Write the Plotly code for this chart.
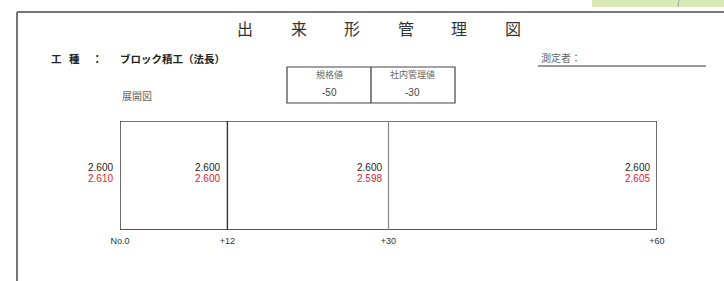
import plotly.graph_objects as go

W, H = 724, 281

# ---- data ----
stations = [0, 12, 30, 60]
station_labels = ["No.0", "+12", "+30", "+60"]
design_values = ["2.600", "2.600", "2.600", "2.600"]
measured_values = ["2.610", "2.600", "2.598", "2.605"]
title_chars = ["出", "来", "形", "管", "理", "図"]
table_headers = ["規格値", "社内管理値"]
table_values = ["-50", "-30"]

def px(x):
    return x / W

def py(y):
    return 1 - y / H

fig = go.Figure()

# chart box: top and bottom edges
fig.add_trace(go.Scatter(x=[stations[0], stations[-1]], y=[1, 1], mode="lines",
                         line=dict(color="#444444", width=1.6), hoverinfo="skip"))
fig.add_trace(go.Scatter(x=[stations[0], stations[-1]], y=[0, 0], mode="lines",
                         line=dict(color="#555555", width=2), hoverinfo="skip"))
# vertical station lines
vcolors = ["#444444", "#333333", "#888888", "#444444"]
vwidths = [1.6, 1.4, 1.2, 1.6]
for s, c, w in zip(stations, vcolors, vwidths):
    fig.add_trace(go.Scatter(x=[s, s], y=[0, 1], mode="lines",
                             line=dict(color=c, width=w), hoverinfo="skip"))

annotations = []
for s, d, m in zip(stations, design_values, measured_values):
    annotations.append(dict(x=s, y=0.575, xref="x", yref="y", text=d, showarrow=False,
                            xanchor="right", yanchor="middle", xshift=-5,
                            font=dict(size=10, color="#222222", family="Liberation Sans")))
    annotations.append(dict(x=s, y=0.475, xref="x", yref="y", text=m, showarrow=False,
                            xanchor="right", yanchor="middle", xshift=-5,
                            font=dict(size=10, color="#e8202a", family="Liberation Sans")))

jp = "Noto Sans CJK JP"

def pann(x, y, text, size=10, color="#222222", family=jp, xanchor="center"):
    return dict(x=px(x), y=py(y), xref="paper", yref="paper", text=text, showarrow=False,
                xanchor=xanchor, yanchor="middle", font=dict(size=size, color=color, family=family))

# title
title_x = [245, 298.5, 352, 405.5, 459, 513]
for cx, ch in zip(title_x, title_chars):
    annotations.append(pann(cx, 28, ch, size=16, color="#333333"))
annotations += [
    pann(57, 58, "<b>工</b>", size=10.5),
    pann(74, 58, "<b>種</b>", size=10.5),
    pann(98, 58, "<b>：</b>", size=10.5),
    pann(118, 58, "<b>ブロック積工（法長）</b>", size=10.5, xanchor="left"),
    pann(120, 95, "展開図", size=10, color="#666666", xanchor="left"),
    pann(539, 57, "測定者：", size=10, color="#666666", xanchor="left"),
    pann(329, 75, table_headers[0], size=9, color="#666666"),
    pann(413, 75, table_headers[1], size=9, color="#666666"),
    pann(329, 93, table_values[0], size=10, color="#444444", family="Liberation Sans"),
    pann(413, 93, table_values[1], size=10, color="#444444", family="Liberation Sans"),
]

shapes = [
    # decorative green corner
    dict(type="rect", xref="paper", yref="paper", x0=px(592), x1=1, y0=py(7), y1=1,
         fillcolor="#d9eab8", line=dict(width=0), layer="below"),
    dict(type="line", xref="paper", yref="paper", x0=px(678), x1=px(679), y0=py(7), y1=1,
         line=dict(color="#a0a890", width=1)),
    # outer frame
    dict(type="line", xref="paper", yref="paper", x0=px(17), x1=1, y0=py(12), y1=py(12),
         line=dict(color="#777777", width=2)),
    dict(type="line", xref="paper", yref="paper", x0=px(17), x1=px(17), y0=py(12), y1=0,
         line=dict(color="#777777", width=2)),
    # measurer underline
    dict(type="line", xref="paper", yref="paper", x0=px(538), x1=px(706), y0=py(66), y1=py(66),
         line=dict(color="#333333", width=1.2)),
    # table
    dict(type="rect", xref="paper", yref="paper", x0=px(287), x1=px(455), y0=py(103), y1=py(67),
         line=dict(color="#444444", width=1.2)),
    dict(type="line", xref="paper", yref="paper", x0=px(371), x1=px(371), y0=py(103), y1=py(67),
         line=dict(color="#333333", width=1.2)),
]

fig.update_layout(
    width=W, height=H, margin=dict(l=0, r=0, t=0, b=0, pad=0, autoexpand=False), autosize=False,
    paper_bgcolor="white", plot_bgcolor="white", showlegend=False,
    xaxis=dict(domain=[px(120), px(657)], range=[0, 60], showgrid=False, zeroline=False,
               showline=False, tickvals=stations, ticktext=station_labels, ticks="",
               ticklabelstandoff=4, automargin=False,
               tickfont=dict(size=9, color="#333333", family="Liberation Sans"),
               fixedrange=True),
    yaxis=dict(domain=[py(230), py(121)], range=[0, 1], showgrid=False, zeroline=False,
               showline=False, showticklabels=False, automargin=False, fixedrange=True),
    annotations=annotations, shapes=shapes,
)

fig.write_html(
    "out.html",
    config={"responsive": False, "displayModeBar": False},
    post_script="document.body.style.margin='0';document.body.style.overflow='hidden';",
)
